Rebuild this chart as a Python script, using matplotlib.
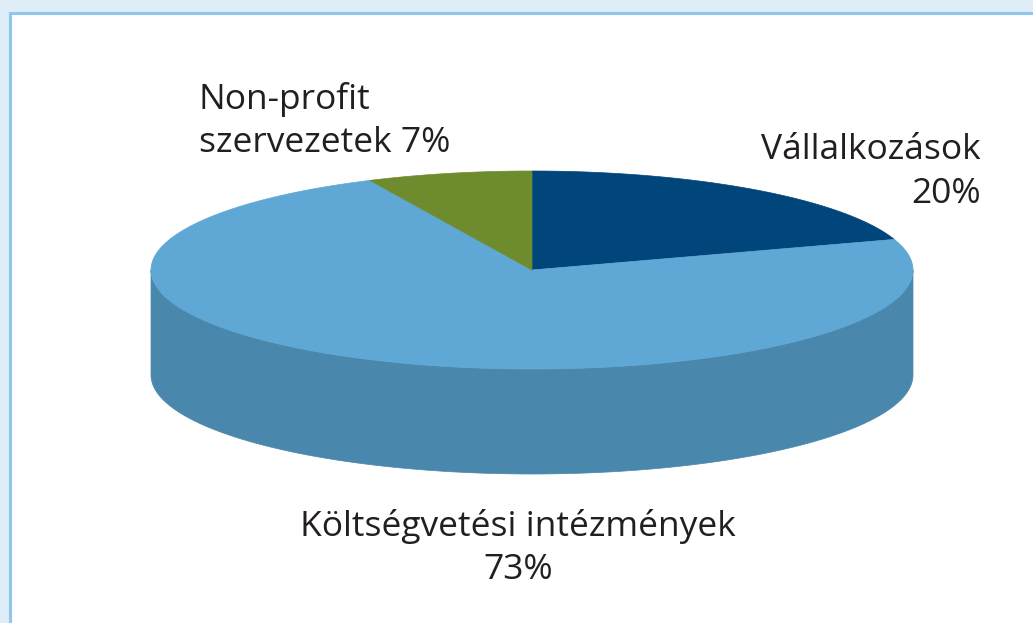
import numpy as np
import matplotlib.pyplot as plt
from matplotlib.patches import Polygon, Rectangle

labels = ["Vállalkozások\n20%", "Költségvetési intézmények\n73%", "Non-profit\nszervezetek 7%"]
values = [20, 73, 7]
colors = ["#00467A", "#5FA8D6", "#6E8B2E"]
side_colors = ["#003A66", "#4A87AD", "#5C7526"]

# ellipse geometry in pixel units
cx, cy = 532, 270
rx, ry = 381, 99
depth = 105


def pt(a):
    r = np.radians(a)
    return cx + rx * np.cos(r), cy - ry * np.sin(r)


fig = plt.figure(figsize=(10.33, 6.23), dpi=100)
ax = fig.add_axes([0, 0, 1, 1])
ax.set_xlim(0, 1033)
ax.set_ylim(623, 0)
ax.axis("off")

# frame
fig.patch.set_facecolor("#DFEDF8")
ax.add_patch(Rectangle((10, 13), 1100, 700, facecolor="white", edgecolor="#8FC7EC", lw=2.2))

# slice angles, clockwise from 12 o'clock
total = sum(values)
starts = []
a = 90.0
for v in values:
    starts.append((a, a - 360.0 * v / total))
    a -= 360.0 * v / total

# side walls (only front half visible: 180..360)
for (a0, a1), sc in zip(starts, side_colors):
    lo, hi = min(a0, a1), max(a0, a1)
    for off in (0, -360, 360):
        s, e = max(lo + off, 180), min(hi + off, 360)
        if e > s:
            t = np.linspace(s, e, 200)
            top = [pt(x) for x in t]
            bot = [(x, y + depth) for x, y in top[::-1]]
            ax.add_patch(Polygon(top + bot, closed=True, facecolor=sc, edgecolor=sc, lw=0.5))

# top wedges
for (a0, a1), c in zip(starts, colors):
    t = np.linspace(a0, a1, 300)
    ptsw = [(cx, cy)] + [pt(x) for x in t]
    ax.add_patch(Polygon(ptsw, closed=True, facecolor=c, edgecolor=c, lw=0.5))

font = "Open Sans"
fs = 25.5
ax.text(981, 172, labels[0], ha="right", va="center", fontsize=fs, family=font,
        color="#231F20", linespacing=1.35, multialignment="right")
ax.text(518, 548, labels[1], ha="center", va="center", fontsize=fs, family=font,
        color="#231F20", linespacing=1.35, multialignment="center")
ax.text(199, 121, labels[2], ha="left", va="center", fontsize=fs, family=font,
        color="#231F20", linespacing=1.35, multialignment="left")

fig.savefig("out.png", dpi=100, facecolor=fig.get_facecolor())
